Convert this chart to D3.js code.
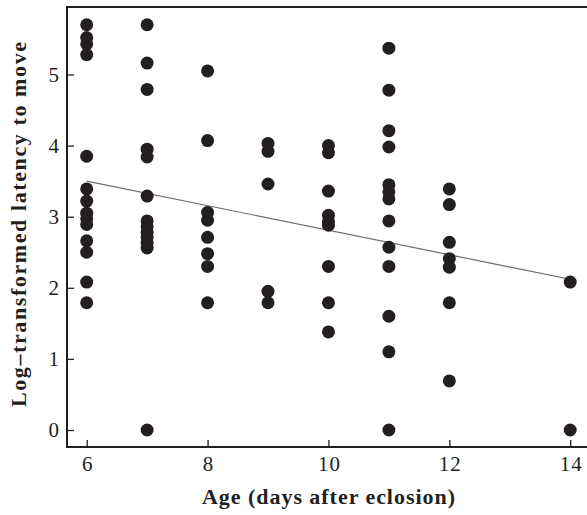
<!DOCTYPE html>
<html><head><meta charset="utf-8">
<script src="https://cdn.jsdelivr.net/npm/d3@7"></script>
<style>body{margin:0;background:#fff}svg{display:block}</style>
</head><body>
<script>
const ages = [6, 7, 8, 9, 10, 11, 12, 14];
const latency = [
  [5.70, 5.52, 5.43, 5.28, 3.85, 3.39, 3.22, 3.05, 2.97, 2.89, 2.66, 2.50, 2.08, 1.79],
  [5.70, 5.16, 4.79, 3.95, 3.84, 3.29, 2.94, 2.86, 2.78, 2.71, 2.63, 2.56, 0],
  [5.05, 4.07, 3.06, 2.95, 2.71, 2.48, 2.30, 1.79],
  [4.03, 3.92, 3.46, 1.95, 1.79],
  [4.00, 3.90, 3.36, 3.02, 2.93, 2.88, 2.30, 1.79, 1.38],
  [5.37, 4.78, 4.21, 3.98, 3.45, 3.35, 3.25, 2.94, 2.57, 2.30, 1.60, 1.10, 0],
  [3.39, 3.17, 2.64, 2.41, 2.29, 1.79, 0.69],
  [2.08, 0]
];
const regressionX = [6, 14];
const regressionY = [3.50, 2.12];
const xTicks = [6, 8, 10, 12, 14];
const yTicks = [0, 1, 2, 3, 4, 5];
const xTitle = "Age (days after eclosion)";
const yTitle = "Log\u2013transformed latency to move";

const W = 587, H = 515;
const mLeft = 67, mTop = 7, mBottom = 447, mRight = 587;
const font = "'Liberation Serif', 'DejaVu Serif', serif";
const ink = "#231f20";

const svg = d3.select("body").append("svg").attr("width", W).attr("height", H);
const x = d3.scaleLinear().domain([6, 14]).range([86.7, 570.2]);
const y = d3.scaleLinear().domain([0, 5]).range([430, 74.5]);

const pts = [];
ages.forEach((a, i) => latency[i].forEach(v => pts.push({a, v})));

// frame
svg.append("line").attr("x1", mLeft).attr("x2", mRight).attr("y1", mTop).attr("y2", mTop)
  .attr("stroke", ink).attr("stroke-width", 2.2);
svg.append("line").attr("x1", mLeft).attr("x2", mLeft).attr("y1", mTop - 1).attr("y2", mBottom + 1)
  .attr("stroke", ink).attr("stroke-width", 2);
svg.append("line").attr("x1", mLeft - 1).attr("x2", mRight).attr("y1", mBottom).attr("y2", mBottom)
  .attr("stroke", ink).attr("stroke-width", 2);

const gx = svg.append("g").attr("transform", `translate(0,${mBottom})`)
  .call(d3.axisBottom(x).tickValues(xTicks).tickFormat(d3.format("d")).tickSizeInner(-7).tickSizeOuter(0).tickPadding(9));
const gy = svg.append("g").attr("transform", `translate(${mLeft},0)`)
  .call(d3.axisLeft(y).tickValues(yTicks).tickFormat(d3.format("d")).tickSizeInner(-7).tickSizeOuter(0).tickPadding(8));
[gx, gy].forEach(g => {
  g.select(".domain").remove();
  g.selectAll(".tick line").attr("stroke", ink).attr("stroke-width", 1.3);
  g.selectAll(".tick text").attr("fill", ink).style("font-family", font).style("font-size", "21px");
});
gx.selectAll(".tick text").style("letter-spacing", "1px").attr("dx", "0.5px");

// regression line
svg.append("line")
  .attr("x1", x(regressionX[0])).attr("y1", y(regressionY[0]))
  .attr("x2", x(regressionX[1])).attr("y2", y(regressionY[1]))
  .attr("stroke", "#6d6d6d").attr("stroke-width", 1.2);

// points
svg.append("g").selectAll("circle").data(pts).join("circle")
  .attr("cx", d => x(d.a)).attr("cy", d => y(d.v)).attr("r", 6.5).attr("fill", ink);

// titles
svg.append("text").attr("x", 202).attr("y", 504)
  .attr("fill", ink).attr("textLength", 253).attr("lengthAdjust", "spacing")
  .style("font-family", font).style("font-size", "22px").style("font-weight", "bold")
  .text(xTitle);
svg.append("text").attr("transform", `translate(26,407) rotate(-90)`)
  .attr("fill", ink).attr("textLength", 365).attr("lengthAdjust", "spacing")
  .style("font-family", font).style("font-size", "22px").style("font-weight", "bold")
  .text(yTitle);
</script>
</body></html>
